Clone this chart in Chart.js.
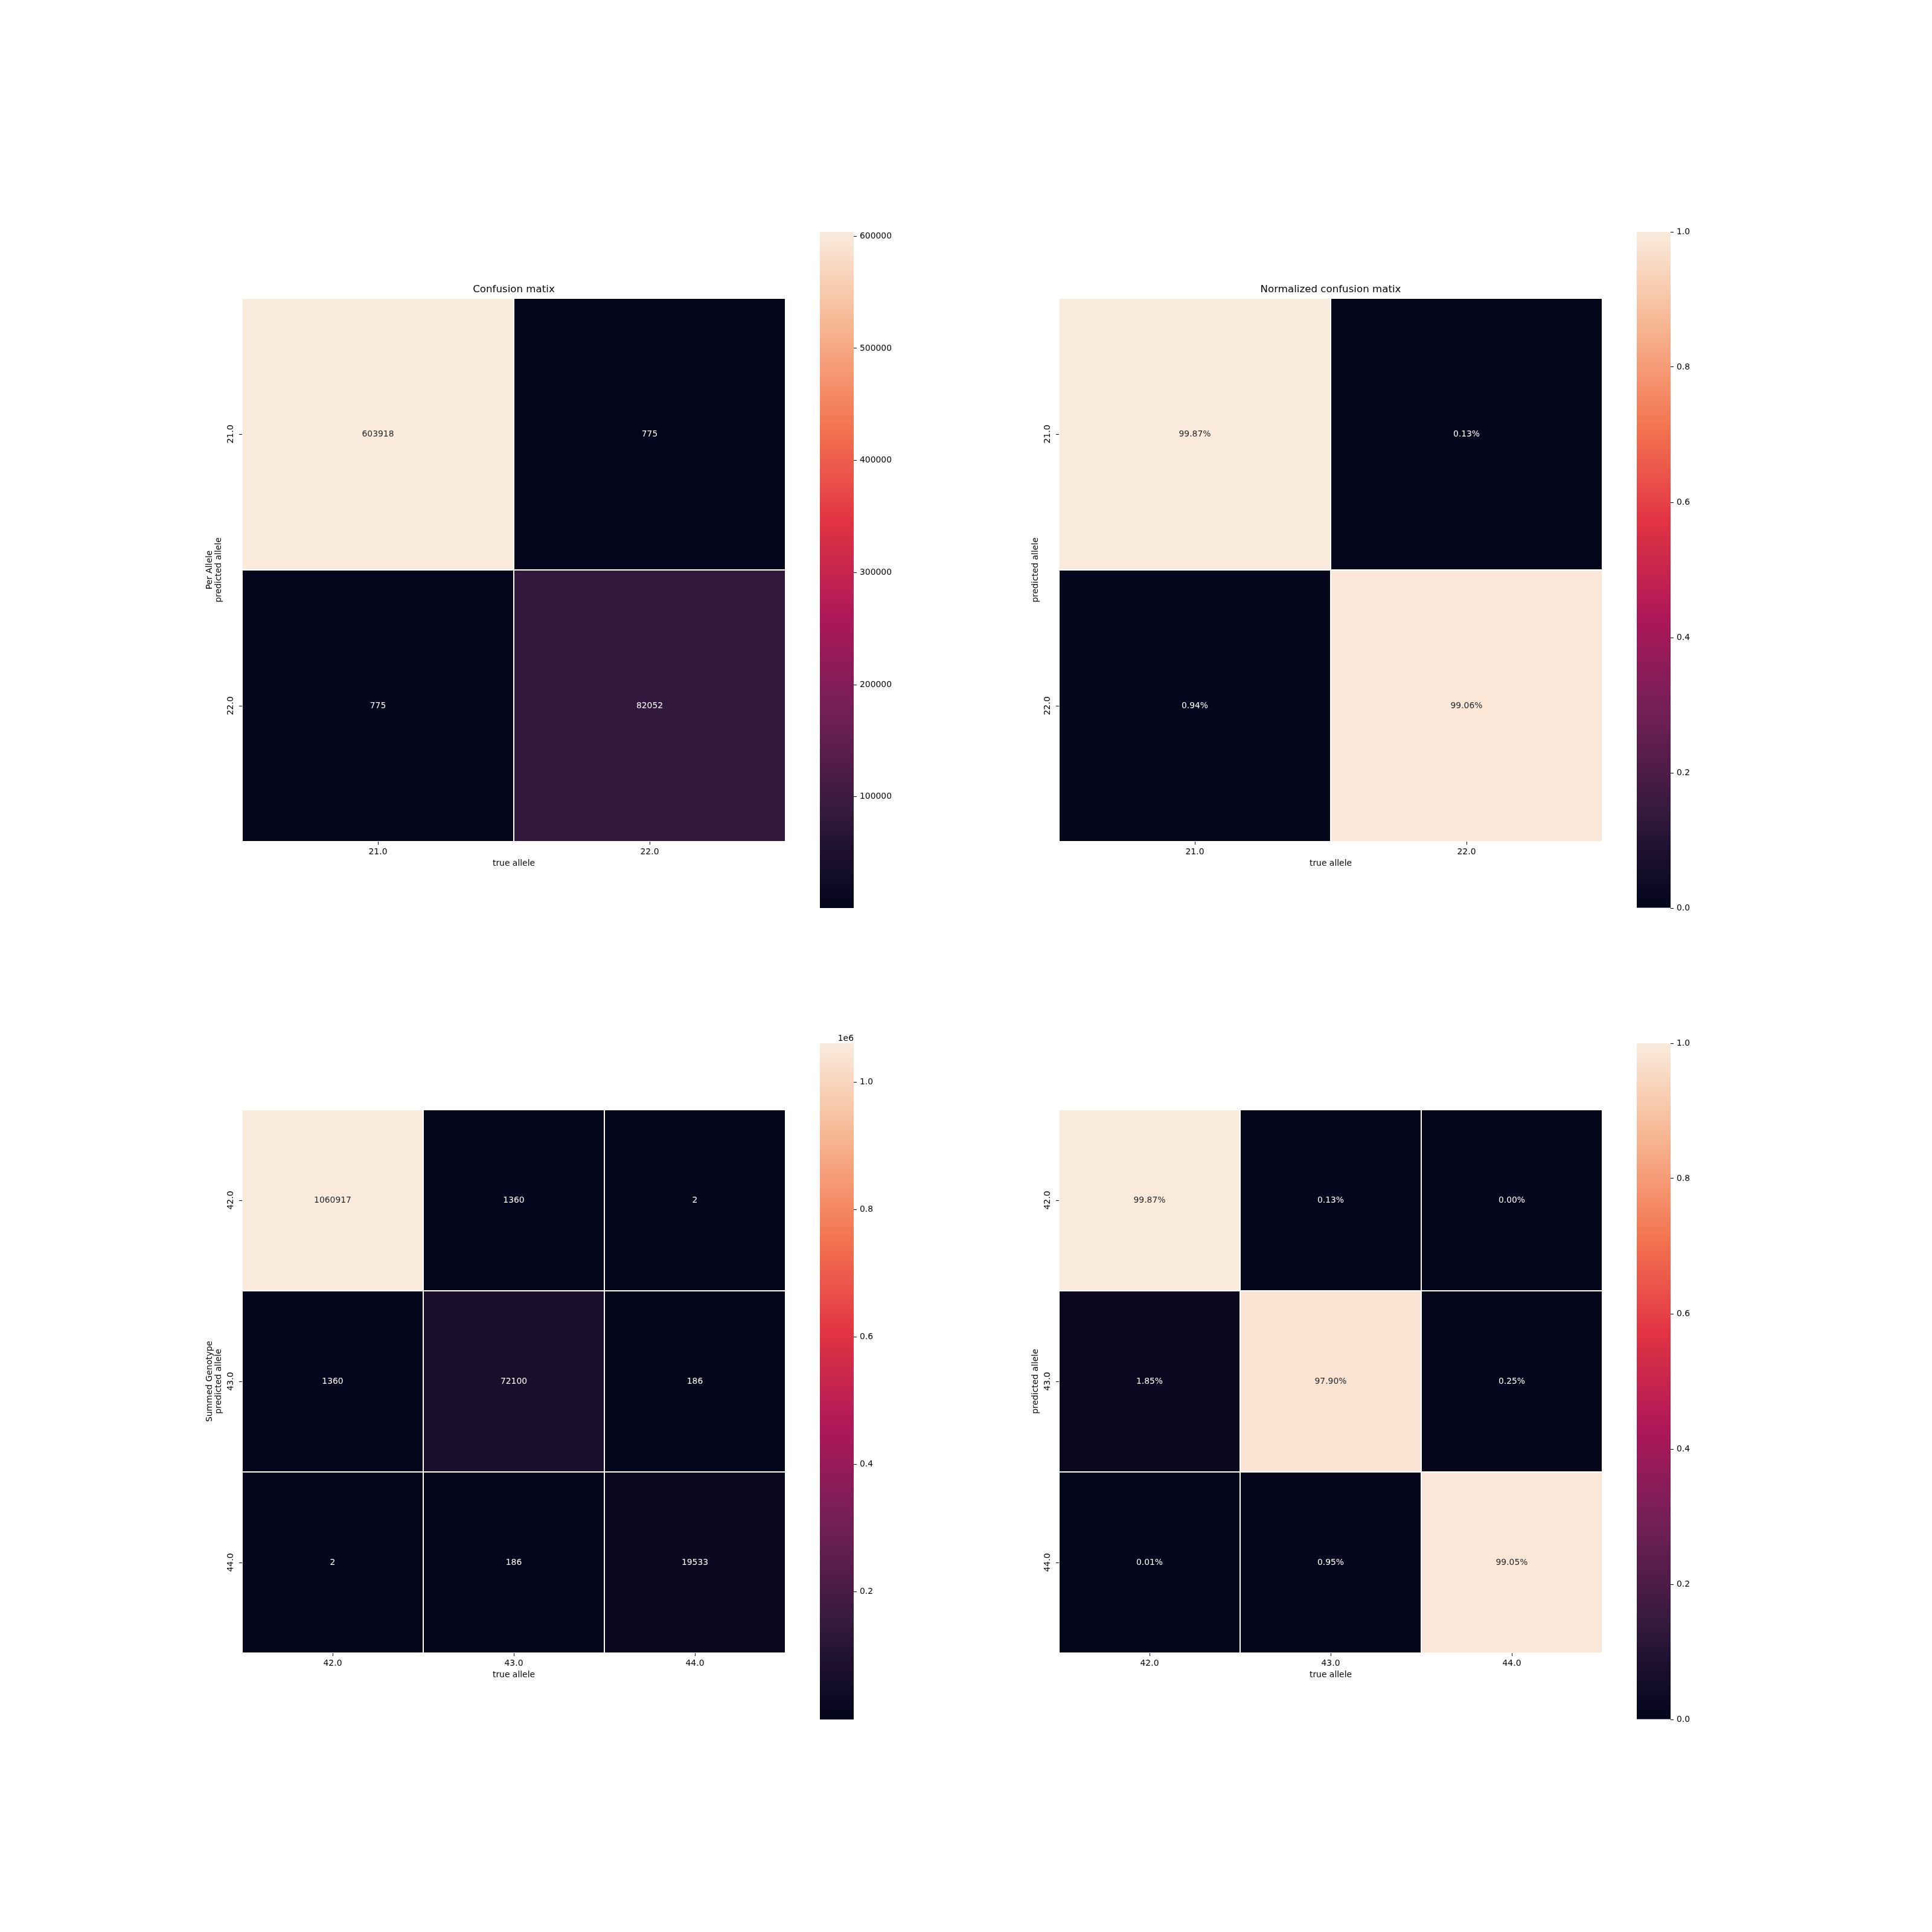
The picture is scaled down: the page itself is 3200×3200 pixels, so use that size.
<!DOCTYPE html>
<html>
<head>
<meta charset="utf-8">
<script src="https://cdn.jsdelivr.net/npm/chart.js@4.4.1/dist/chart.umd.min.js"></script>
<style>
html, body { margin: 0; padding: 0; background: #ffffff; }
#wrap { position: relative; width: 3200px; height: 3200px; background: #ffffff; overflow: hidden; }
canvas { position: absolute; }
</style>
</head>
<body>
<div id="wrap"></div>
<script>
// ---------------- data ----------------
const alleleLabels = ['21.0', '22.0'];
const alleleCounts = [
  [603918, 775],
  [775, 82052]
];
const allelePercent = [
  [99.87, 0.13],
  [0.94, 99.06]
];
const genotypeLabels = ['42.0', '43.0', '44.0'];
const genotypeCounts = [
  [1060917, 1360, 2],
  [1360, 72100, 186],
  [2, 186, 19533]
];
const genotypePercent = [
  [99.87, 0.13, 0.00],
  [1.85, 97.90, 0.25],
  [0.01, 0.95, 99.05]
];
const alleleCountTicks = [100000, 200000, 300000, 400000, 500000, 600000];
const genotypeCountTicks = [200000, 400000, 600000, 800000, 1000000];
const fractionTicks = [0, 0.2, 0.4, 0.6, 0.8, 1.0];
const xAxisTitle = 'true allele';
const alleleYTitle = ['Per Allele', 'predicted allele'];
const genotypeYTitle = ['Summed Genotype', 'predicted allele'];
const normYTitle = 'predicted allele';
const countTitle = 'Confusion matix';
const normTitle = 'Normalized confusion matix';

// ---------------- colormap (seaborn "rocket") ----------------
const rocketStops = [
  [0, [3, 5, 26]],
  [1/11, [32, 18, 49]],
  [1/7, [53, 25, 62]],
  [2/7, [112, 31, 87]],
  [3/7, [173, 23, 89]],
  [4/7, [225, 51, 66]],
  [5/7, [243, 118, 81]],
  [6/7, [246, 180, 143]],
  [1, [250, 235, 221]]
];
function rocket(t) {
  t = Math.max(0, Math.min(1, t));
  for (let i = 1; i < rocketStops.length; i++) {
    const [t1, c1] = rocketStops[i];
    const [t0, c0] = rocketStops[i - 1];
    if (t <= t1) {
      const f = (t - t0) / (t1 - t0);
      return c0.map((v, k) => Math.round(v + (c1[k] - v) * f));
    }
  }
  return rocketStops[rocketStops.length - 1][1].slice();
}
const rgbStr = c => `rgb(${c[0]},${c[1]},${c[2]})`;
function relLum(c) {
  const l = c.map(v => { v /= 255; return v <= 0.03928 ? v / 12.92 : Math.pow((v + 0.055) / 1.055, 2.4); });
  return 0.2126 * l[0] + 0.7152 * l[1] + 0.0722 * l[2];
}

// ---------------- chart setup ----------------
const FONT = "'DejaVu Sans', 'Liberation Sans', sans-serif";
Chart.defaults.font.family = FONT;
Chart.defaults.font.size = 13.9;
Chart.defaults.color = '#000000';
Chart.defaults.animation = false;

const wrap = document.getElementById('wrap');
function addCanvas(left, top, w, h) {
  const c = document.createElement('canvas');
  c.width = w; c.height = h;
  c.style.left = left + 'px'; c.style.top = top + 'px';
  c.style.width = w + 'px'; c.style.height = h + 'px';
  wrap.appendChild(c);
  return c;
}

const tickGrid = { display: true, drawOnChartArea: false, drawTicks: true, tickLength: 5, color: '#000000', lineWidth: 1, offset: false };

function heatmap(p) {
  const n = p.labels.length;
  const Y_W = 80, X_H = 60, PL = 20, PR = 10, PB = 10, TOP = 60;
  const size = 900;
  const canvas = addCanvas(p.left - Y_W - PL, p.top - TOP, PL + Y_W + size + PR, TOP + size + X_H + PB);
  const titleH = 16.67 * 1.2 + 4.5;
  const flat = p.colorValues.flat();
  const vmin = p.vmin !== undefined ? p.vmin : Math.min(...flat);
  const vmax = p.vmax !== undefined ? p.vmax : Math.max(...flat);
  const cellRGB = p.colorValues.map(row => row.map(v => rocket((v - vmin) / (vmax - vmin))));
  const datasets = p.colorValues.map((row, r) => ({
    data: row.map(() => [r, r + 1]),
    backgroundColor: cellRGB[r].map(rgbStr),
    borderColor: '#ffffff',
    borderWidth: 1,
    borderSkipped: false,
    inflateAmount: 0,
    barPercentage: 1,
    categoryPercentage: 1,
    grouped: false
  }));
  const annot = {
    id: 'annot',
    afterDatasetsDraw(chart) {
      const ctx = chart.ctx;
      ctx.save();
      ctx.font = `13.9px ${FONT}`;
      ctx.textAlign = 'center';
      ctx.textBaseline = 'middle';
      datasets.forEach((ds, r) => {
        chart.getDatasetMeta(r).data.forEach((el, c) => {
          ctx.fillStyle = relLum(cellRGB[r][c]) > 0.408 ? '#262626' : '#ffffff';
          ctx.fillText(p.text[r][c], el.x, (el.y + el.base) / 2);
        });
      });
      ctx.restore();
    }
  };
  const twoLine = Array.isArray(p.yTitle);
  new Chart(canvas, {
    type: 'bar',
    data: { labels: p.labels, datasets },
    options: {
      responsive: false,
      devicePixelRatio: 1,
      animation: false,
      layout: { padding: { left: PL, right: PR, top: p.title ? TOP - titleH : TOP, bottom: PB } },
      plugins: {
        legend: { display: false },
        tooltip: { enabled: false },
        title: {
          display: !!p.title, text: p.title || '', color: '#000000',
          fullSize: false, align: 'center',
          font: { size: 16.67, weight: 'normal', lineHeight: 1.2 },
          padding: { top: 0, bottom: 4.5 }
        }
      },
      scales: {
        x: {
          type: 'category', offset: true,
          grid: tickGrid, border: { display: false },
          ticks: { color: '#000000', padding: 4, maxRotation: 0, minRotation: 0, autoSkip: false },
          title: { display: true, text: xAxisTitle, color: '#000000', font: { size: 13.9, lineHeight: 1.2 }, padding: { top: 0, bottom: 15.66 } },
          afterFit(s) { s.height = X_H; }
        },
        y: {
          type: 'linear', position: 'left', min: 0, max: n, reverse: true, bounds: 'data',
          afterBuildTicks(s) { s.ticks = p.labels.map((_, i) => ({ value: i + 0.5 })); },
          ticks: {
            color: '#000000', padding: -1.5, minRotation: 90, maxRotation: 90, crossAlign: 'center', autoSkip: false,
            callback: (v) => p.labels[Math.floor(v)]
          },
          grid: tickGrid, border: { display: false },
          title: {
            display: true, text: p.yTitle, color: '#000000',
            font: { size: 13.9, lineHeight: 1.08 },
            padding: { top: twoLine ? 18.5 : 33.5, bottom: 0 }
          },
          afterFit(s) { s.width = Y_W; }
        }
      }
    },
    plugins: [annot]
  });
}

function colorbar(p) {
  const W = 56, AX = 70, PL = 10, PR = 10, PT = 30, PB = 30;
  const canvas = addCanvas(p.left - PL, p.top - PT, PL + W + AX + PR, PT + p.height + PB);
  const gradientFill = (ctx) => {
    const chart = ctx.chart;
    const area = chart.chartArea;
    if (!area) return rgbStr(rocket(0.5));
    const ys = chart.scales.y;
    const g = chart.ctx.createLinearGradient(0, ys.getPixelForValue(p.vmin), 0, ys.getPixelForValue(p.vmax));
    const N = 128;
    for (let k = 0; k <= N; k++) g.addColorStop(k / N, rgbStr(rocket(k / N)));
    return g;
  };
  const plugins = [];
  if (p.offsetText) {
    plugins.push({
      id: 'offsetText',
      afterDraw(chart) {
        const ctx = chart.ctx, a = chart.chartArea;
        ctx.save();
        ctx.font = `13.9px ${FONT}`;
        ctx.fillStyle = '#000000';
        ctx.textAlign = 'right';
        ctx.textBaseline = 'alphabetic';
        ctx.fillText(p.offsetText, a.right, a.top - 3.7);
        ctx.restore();
      }
    });
  }
  new Chart(canvas, {
    type: 'bar',
    data: { labels: [''], datasets: [{ data: [[p.vmin, p.vmax]], backgroundColor: gradientFill, borderWidth: 0, barPercentage: 1, categoryPercentage: 1, inflateAmount: 0 }] },
    options: {
      responsive: false,
      devicePixelRatio: 1,
      animation: false,
      layout: { padding: { left: PL, right: PR, top: PT, bottom: PB } },
      plugins: { legend: { display: false }, tooltip: { enabled: false }, title: { display: false } },
      scales: {
        x: { display: false, offset: true },
        y: {
          type: 'linear', position: 'right', min: p.vmin, max: p.vmax, bounds: 'data',
          afterBuildTicks(s) { s.ticks = p.ticks.map(v => ({ value: v })); },
          ticks: { color: '#000000', padding: 5, autoSkip: false, callback: p.format },
          grid: { display: true, drawOnChartArea: false, drawTicks: true, tickLength: 5, color: '#000000', lineWidth: 1 },
          border: { display: false },
          afterFit(s) { s.width = AX; }
        }
      }
    },
    plugins
  });
}

const pctText = m => m.map(row => row.map(v => v.toFixed(2) + '%'));
const cntText = m => m.map(row => row.map(v => String(v)));
const fracColor = m => m.map(row => row.map(v => v / 100));

// Top-left: per-allele counts
const aFlat = alleleCounts.flat();
heatmap({ left: 401, top: 494, labels: alleleLabels, colorValues: alleleCounts, text: cntText(alleleCounts), title: countTitle, yTitle: alleleYTitle });
colorbar({ left: 1358, top: 384, height: 1120, vmin: Math.min(...aFlat), vmax: Math.max(...aFlat), ticks: alleleCountTicks, format: v => String(Math.round(v)) });

// Top-right: per-allele normalized
heatmap({ left: 1754, top: 494, labels: alleleLabels, colorValues: fracColor(allelePercent), vmin: 0, vmax: 1, text: pctText(allelePercent), title: normTitle, yTitle: normYTitle });
colorbar({ left: 2711, top: 384, height: 1120, vmin: 0, vmax: 1, ticks: fractionTicks, format: v => v.toFixed(1) });

// Bottom-left: summed genotype counts
const gFlat = genotypeCounts.flat();
heatmap({ left: 401, top: 1838, labels: genotypeLabels, colorValues: genotypeCounts, text: cntText(genotypeCounts), title: null, yTitle: genotypeYTitle });
colorbar({ left: 1358, top: 1728, height: 1120, vmin: Math.min(...gFlat), vmax: Math.max(...gFlat), ticks: genotypeCountTicks, format: v => (v / 1e6).toFixed(1), offsetText: '1e6' });

// Bottom-right: summed genotype normalized
heatmap({ left: 1754, top: 1838, labels: genotypeLabels, colorValues: fracColor(genotypePercent), vmin: 0, vmax: 1, text: pctText(genotypePercent), title: null, yTitle: normYTitle });
colorbar({ left: 2711, top: 1728, height: 1120, vmin: 0, vmax: 1, ticks: fractionTicks, format: v => v.toFixed(1) });
</script>
</body>
</html>
